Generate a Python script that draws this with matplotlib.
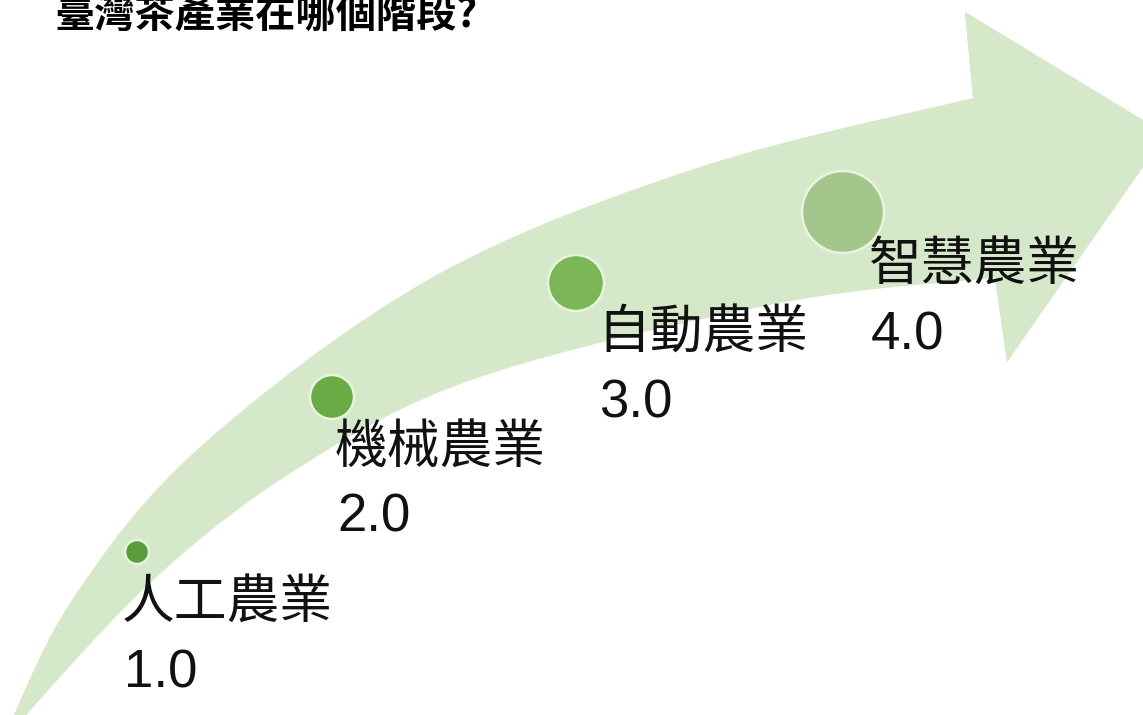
import numpy as np
import matplotlib
matplotlib.use("Agg")
import matplotlib.pyplot as plt
from matplotlib.path import Path
from matplotlib.patches import PathPatch, Circle, Polygon

plt.rcParams['font.family'] = ['Noto Sans CJK TC', 'DejaVu Sans']

# stages of the tea industry
title = "臺灣茶產業在哪個階段?"
stages = ["人工農業", "機械農業", "自動農業", "智慧農業"]
versions = ["1.0", "2.0", "3.0", "4.0"]
bubble_r = [12, 22, 28, 41]
bubble_col = ["#5b9b38", "#6aab45", "#7bb757", "#a4c68c"]

# layout (pixel coords, y down)
bubble_xy = [(137, 552), (332, 397), (576, 283), (843, 212)]
label_xy = [(122, 618), (335, 463), (597, 349), (869, 280)]
num_dy = 69

# arrow outline
upper = [(2, 742), (72, 600), (200, 447), (433, 277), (700, 167), (973, 98)]
lower = [(2, 742), (150, 583), (300, 467), (480, 377), (780, 303), (995, 278)]
head = [(973, 98), (965, 12), (1166, 134), (1007, 362), (995, 278)]


def smooth(pts):
    # catmull-rom -> cubic bezier
    p = np.array(pts, float)
    verts = [p[0]]
    codes = [Path.MOVETO]
    for i in range(len(p) - 1):
        p0 = p[i - 1] if i > 0 else p[i]
        p1, p2 = p[i], p[i + 1]
        p3 = p[i + 2] if i + 2 < len(p) else p[i + 1]
        verts += [p1 + (p2 - p0) / 6, p2 - (p3 - p1) / 6, p2]
        codes += [Path.CURVE4] * 3
    return verts, codes


fig = plt.figure(figsize=(11.43, 7.15), dpi=100)
ax = fig.add_axes([0, 0, 1, 1])
ax.set_xlim(0, 1143)
ax.set_ylim(715, 0)
ax.axis('off')

arrow_col = "#d6e8ca"
uv, uc = smooth(upper)
lv, lc = smooth(lower[::-1])
lc[0] = Path.LINETO
verts = uv + [np.array(head[1]), np.array(head[2]), np.array(head[3])] + lv + [uv[0]]
codes = uc + [Path.LINETO] * 3 + lc + [Path.CLOSEPOLY]
ax.add_patch(PathPatch(Path(verts, codes), fc=arrow_col, ec='none', zorder=1))
ax.add_patch(Polygon(head, closed=True, fc=arrow_col, ec='none', zorder=1))

for (x, y), r, c in zip(bubble_xy, bubble_r, bubble_col):
    ax.add_patch(Circle((x, y), r, fc=c, ec="#e6f6dc", lw=1.8, zorder=3))

for (x, y), s, v in zip(label_xy, stages, versions):
    ax.text(x, y, s, fontsize=38, color="#111111", ha='left', va='baseline', zorder=4)
    ax.text(x + 2, y + num_dy, v, fontsize=38, color="#111111", ha='left', va='baseline',
            family=['Liberation Sans', 'DejaVu Sans'], zorder=4)

ax.text(55, 27, title, fontsize=29, fontweight='bold', color='black',
        ha='left', va='baseline', zorder=4)

fig.savefig("out.png", dpi=100, facecolor='white')
